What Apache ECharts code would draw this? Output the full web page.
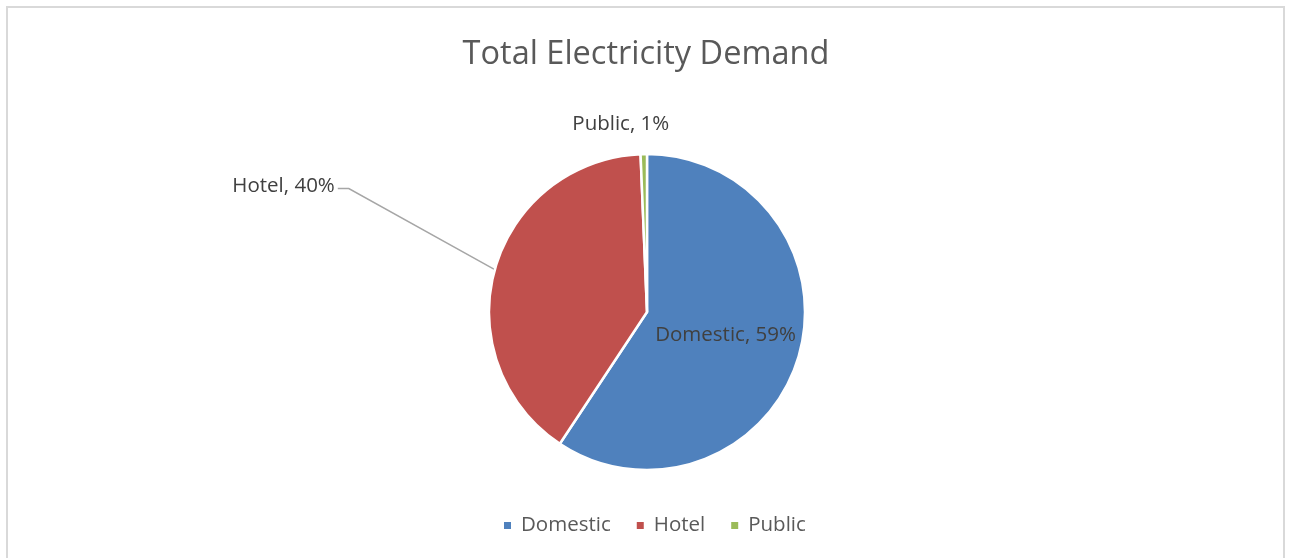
<!DOCTYPE html>
<html>
<head>
<meta charset="utf-8">
<script src="https://cdn.jsdelivr.net/npm/echarts@6/dist/echarts.min.js"></script>
<style>
  html, body { margin: 0; padding: 0; background: #fff; }
  #frame { position: absolute; left: 6px; top: 6px; width: 1279px; height: 600px; border: 2px solid #d9d9d9; box-sizing: border-box; }
  #chart { position: absolute; left: 0; top: 0; width: 1292px; height: 558px; }
</style>
</head>
<body>
<div id="frame"></div>
<div id="chart"></div>
<script>
// chart data
const categories = ['Domestic', 'Hotel', 'Public'];
const shares = [59.3, 40.05, 0.65];
const colors = ['#4f81bd', '#c0504d', '#9bbb59'];

const chart = echarts.init(document.getElementById('chart'));

const pieData = categories.map((name, i) => ({
    name: name,
    value: shares[i],
    itemStyle: { color: colors[i] }
}));

// Domestic label sits inside the slice, the others outside
pieData[0].label = { position: 'inside' };
pieData[2].labelLine = { show: false };

chart.setOption({
    animation: false,
    title: {
        text: 'Total Electricity Demand',
        left: 'center',
        top: 33,
        textStyle: {
            color: '#595959',
            fontSize: 32.5,
            fontWeight: 'normal',
            fontFamily: 'Open Sans'
        }
    },
    legend: {
        data: categories,
        bottom: 17,
        left: 497,
        icon: 'rect',
        itemWidth: 9,
        itemHeight: 9,
        itemGap: 24,
        textStyle: {
            color: '#595959',
            fontSize: 20.5,
            fontFamily: 'Open Sans',
            padding: [0, 0, 0, 4]
        }
    },
    series: [{
        type: 'pie',
        center: [647, 312],
        radius: 158,
        startAngle: 90,
        clockwise: true,
        percentPrecision: 0,
        itemStyle: {
            borderColor: '#fff',
            borderWidth: 2.5
        },
        label: {
            show: true,
            formatter: '{b}, {d}%',
            color: '#404040',
            fontSize: 20.5,
            fontFamily: 'Open Sans'
        },
        labelLine: {
            show: true,
            length: 20,
            length2: 10,
            lineStyle: { color: '#a6a6a6', width: 1.5 }
        },
        labelLayout: function (p) {
            if (p.dataIndex === 1) {
                const e = p.labelLinePoints[0];
                const x = e[0] - 146, y = e[1] - 81;
                return {
                    x: x - 14,
                    y: y - 2,
                    align: 'right',
                    verticalAlign: 'middle',
                    labelLinePoints: [e, [x, y], [x - 11, y]]
                };
            }
            if (p.dataIndex === 2) {
                const e = p.labelLinePoints[0];
                return {
                    x: e[0] - 23,
                    y: e[1] - 30,
                    align: 'center',
                    verticalAlign: 'middle'
                };
            }
            return {};
        },
        data: pieData
    }]
});

window.addEventListener('resize', () => {
    chart.resize();
});
</script>
</body>
</html>
